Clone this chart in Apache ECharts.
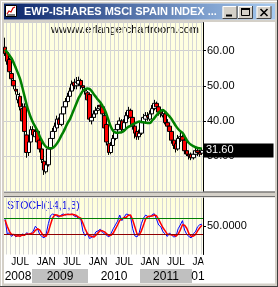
<!DOCTYPE html>
<html><head><meta charset="utf-8">
<script src="https://cdn.jsdelivr.net/npm/echarts@6/dist/echarts.min.js"></script>
<style>html,body{margin:0;padding:0;background:#fff}#c{width:278px;height:287px}</style>
</head><body><div id="c"></div><script>
const categories = [
'2008-03-15','2008-04-01','2008-04-15','2008-05-01','2008-05-15','2008-06-01','2008-06-15','2008-07-01','2008-07-15','2008-08-01','2008-08-15','2008-09-01','2008-09-15','2008-10-01','2008-10-15','2008-11-01','2008-11-15','2008-12-01','2008-12-15',
'2009-01-01','2009-01-15','2009-02-01','2009-02-15','2009-03-01','2009-03-15','2009-04-01','2009-04-15','2009-05-01','2009-05-15','2009-06-01','2009-06-15','2009-07-01','2009-07-15','2009-08-01','2009-08-15','2009-09-01','2009-09-15','2009-10-01','2009-10-15','2009-11-01','2009-11-15','2009-12-01','2009-12-15',
'2010-01-01','2010-01-15','2010-02-01','2010-02-15','2010-03-01','2010-03-15','2010-04-01','2010-04-15','2010-05-01','2010-05-15','2010-06-01','2010-06-15','2010-07-01','2010-07-15','2010-08-01','2010-08-15','2010-09-01','2010-09-15','2010-10-01','2010-10-15','2010-11-01','2010-11-15','2010-12-01','2010-12-15',
'2011-01-01','2011-01-15','2011-02-01','2011-02-15','2011-03-01','2011-03-15','2011-04-01','2011-04-15','2011-05-01','2011-05-15','2011-06-01','2011-06-15','2011-07-01','2011-07-15','2011-08-01','2011-08-15','2011-09-01','2011-09-15','2011-10-01','2011-10-15','2011-11-01','2011-11-15','2011-12-01','2011-12-15',
'2012-01-01'];
const opens = [61,59.5,57.5,53.5,51.5,49,46,47,43.5,44, 36,31,34,37.5,35.5,37,34.5,32,28.5,25.5, 27.5,32,35,37,38,40.5,39,42,44,45.5, 47,48.5,51,50,50.5,51.5,50,49,48,47.5, 40,41,42,43,44.5,44,41.5,39,33.5,31, 33,35,37.5,39,40,37.5,39.5,41.5,43,41, 38.5,37,35.5,36.5,39.5,40.5,41.5,40.5,42,43.5, 45,44,42.5,41.5,42,39.5,38.5,37,34.5,33.5, 32,35,35.5,34.5,31.5,30.5,30.5,29.5,30.5,31.5, 31,30.8];
const closes = [59.2,57,54,52,50,48.5,47.5,44,40,37, 31,34,37.5,36,37,34,32,29,26,27.5, 32,35,37,38.5,40.5,39,42,44,45.5,47, 48.5,50.5,50,51,51.5,50,49.5,48.5,46,40.5, 41,42,43,43.5,44,42,38,34,31,33, 35,37.5,39,40,37.5,39.5,41.5,43,41,38.5, 36.5,35.5,36.5,39.5,41,41.5,41,42,43.5,45, 44,42.5,42,42,39.5,38.5,37,34.5,33,32, 35,35.5,34.5,31.5,30.5,30,29.5,30.5,31.5,31, 30.5,31.6];
const highs = [63.7,60,58,55,53,51,49,48,45,45, 38,35,38.5,38.5,38,37.5,36,33,29.5,28.5, 33,36,38,39.5,41.5,41,43,45,46.5,48, 49.5,51.5,52,52.5,52.6,52,51,50,48.5,48, 42,43,44,44.5,45,44.5,42,40,34.5,34, 36,38.5,40,41,40.5,40.5,42.5,44,43.5,41.5, 39,37.5,37.5,40.5,42,42.5,42.5,43,44.5,46, 45.5,44.5,43.5,43,42.5,40.5,39,37.5,35,34, 36,37,36,35,32.5,31.5,31,31.5,32.5,32, 31.8,32.3];
const lows = [58.5,56,53,51,49,47.5,45,43,39,36, 29.5,30,33,35,34,33,31,28,24.6,25, 27,31,34,36,37.5,38,38.5,41,43,44.5, 46,47.5,49,49,50,49,48,47.5,45,39.7, 39,40,41,42,42.5,41,37,33,30.3,30.5, 32,34.5,36.5,38,36.5,37,39,40.5,40,37.5, 35,34.6,34.6,36,39,40,40,40,41.5,43, 43,41.5,41,41,39,37.5,36,33.5,32,31, 31.5,34,33.5,30.5,30,29,28.8,29,30,30, 29.8,30.3];
const maValues = [60.3,59.5,58.7,57.8,56.5,55,53.5,51.8,49.5,47, 44.5,42.5,40.8,39.4,38.3,37.2,35.6,34.4,33.3,32.6, 32.3,32.2,32.3,32.8,33.6,34.6,35.8,36.9,38.2,39.5, 40.5,42,43.5,45,46.5,47.6,48.6,49,49.2,49.1, 48.5,47.6,46.8,46,45.3,44.3,43.2,41.7,39.8,38.2, 37.1,36.7,36.6,36.7,36.8,37.2,37.8,38.3,38.6,39, 39.3,39.6,39.8,39.7,39.6,39.5,39.4,39.4,40.1,40.8, 41.6,42.3,42.9,43.1,42.6,41.9,41.3,40.5,39.5,38.5, 37.7,37.1,36.6,35.6,34.5,33.7,33.2,32.8,32.5,32.3, 32.2,32.1];
const stochK = [78,20,25,10,18,8,15,10,20,14, 25,18,22,30,50,40,18,10,4,20, 60,92,98,95,90,86,95,98,94,98, 96,98,90,88,80,78,30,12,24,2, 6,12,28,32,38,26,20,14,8,22, 40,55,70,94,72,85,98,96,88,40, 12,8,24,60,82,94,88,86,96,99, 78,55,48,28,20,10,24,15,8,10, 40,55,72,35,18,10,4,20,28,48, 56,58];
const stochD = [75,50,30,18,18,12,13,11,15,15, 20,19,22,23,34,40,36,22,11,11, 28,57,83,95,94,90,90,93,96,96, 96,97,95,92,86,82,62,40,22,13, 11,7,15,24,33,32,28,20,14,15, 23,39,55,73,79,84,85,93,94,75, 47,20,15,31,55,79,88,89,90,94, 91,77,60,44,32,19,18,16,16,11, 19,35,56,54,42,21,11,11,17,32, 44,54];
const stochLevels = [80, 20];
const monthTickKeys = ['01-01', '07-01'];
const monthTickNames = ['JAN', 'JUL'];
const yearLabels = ['2008', '2009', '2010', '2011', '01'];
const titleText = 'EWP-ISHARES MSCI SPAIN INDEX ...';
const siteText = 'wwww.erlangerchartroom.com';
const stochTitle = 'STOCH(14,1,3)';

// style only: year row boxes [x0, x1, fill]
const yearBoxes = [[4,32,'#FFFFFF'],[32,88,'#C0C0C0'],[88,140,'#FFFFFF'],[140,192,'#C0C0C0'],[192,203,'#FFFFFF']];

const FONT = 'Liberation Sans, Arial, sans-serif';
const candleData = categories.map((c, i) => [opens[i], closes[i], lows[i], highs[i]]);
const lastClose = closes[closes.length - 1];

const graphics = [];
const grey = '#D4D0C8';
graphics.push({type:'rect', shape:{x:0,y:0,width:278,height:3.5}, style:{fill:grey}});
graphics.push({type:'rect', shape:{x:0,y:19.5,width:278,height:2.5}, style:{fill:grey}});
graphics.push({type:'rect', shape:{x:0,y:0,width:4,height:287}, style:{fill:grey}});
graphics.push({type:'rect', shape:{x:275,y:0,width:3,height:287}, style:{fill:grey}});
graphics.push({type:'rect', shape:{x:0,y:283.5,width:278,height:3.5}, style:{fill:grey}});
graphics.push({type:'line', shape:{x1:277.5,y1:0,x2:277.5,y2:287}, style:{stroke:'#404040',lineWidth:1}});
graphics.push({type:'line', shape:{x1:0,y1:286.5,x2:278,y2:286.5}, style:{stroke:'#404040',lineWidth:1}});
graphics.push({type:'line', shape:{x1:1.5,y1:1,x2:1.5,y2:286}, style:{stroke:'#FFFFFF',lineWidth:1}});
graphics.push({type:'line', shape:{x1:1,y1:1.5,x2:277,y2:1.5}, style:{stroke:'#FFFFFF',lineWidth:1}});
// title bar
graphics.push({type:'rect', shape:{x:4,y:3.5,width:271,height:16}, style:{fill:{type:'linear',x:0,y:0,x2:1,y2:0,colorStops:[{offset:0,color:'#0A246A'},{offset:1,color:'#A6CAF0'}]}}});
graphics.push({type:'rect', shape:{x:5.5,y:5.5,width:11,height:11}, style:{fill:'#FFFFFF',stroke:'#000',lineWidth:1}});
graphics.push({type:'polyline', shape:{points:[[7,14],[9,11],[11,12],[13,8],[15,7]]}, style:{stroke:'#D00000',lineWidth:1.2,fill:null}});
graphics.push({type:'line', shape:{x1:7,y1:15,x2:15,y2:15}, style:{stroke:'#000',lineWidth:1}});
graphics.push({type:'text', x:24, y:12, style:{text:titleText, fill:'#FFFFFF', font:'bold 11px ' + FONT, align:'left', verticalAlign:'middle', textAlign:'left', textVerticalAlign:'middle'}});
// buttons
[222.5, 238, 256.5].forEach(x => {
  graphics.push({type:'rect', shape:{x:x,y:6,width:15,height:13}, style:{fill:grey}});
  graphics.push({type:'polyline', shape:{points:[[x+0.5,19],[x+0.5,6.5],[x+15,6.5]]}, style:{stroke:'#FFFFFF',lineWidth:1,fill:null}});
  graphics.push({type:'polyline', shape:{points:[[x,18.5],[x+14.5,18.5],[x+14.5,6]]}, style:{stroke:'#404040',lineWidth:1,fill:null}});
});
graphics.push({type:'rect', shape:{x:226,y:14.5,width:6,height:2}, style:{fill:'#000'}});
graphics.push({type:'rect', shape:{x:241.5,y:8.5,width:8,height:7}, style:{fill:null,stroke:'#000',lineWidth:1}});
graphics.push({type:'rect', shape:{x:241,y:8,width:9,height:2}, style:{fill:'#000'}});
graphics.push({type:'line', shape:{x1:260.5,y1:9,x2:267.5,y2:16}, style:{stroke:'#000',lineWidth:1.6}});
graphics.push({type:'line', shape:{x1:267.5,y1:9,x2:260.5,y2:16}, style:{stroke:'#000',lineWidth:1.6}});
// site text
graphics.push({type:'text', x:199, y:30, style:{text:siteText, fill:'#000', font:'11px ' + FONT, align:'right', verticalAlign:'middle', textAlign:'right', textVerticalAlign:'middle'}});
// separator
graphics.push({type:'rect', shape:{x:4,y:191.5,width:271,height:6}, style:{fill:grey}});
graphics.push({type:'line', shape:{x1:4,y1:192,x2:275,y2:192}, style:{stroke:'#505050',lineWidth:1}});
graphics.push({type:'line', shape:{x1:4,y1:196.5,x2:275,y2:196.5}, style:{stroke:'#707070',lineWidth:1}});
// stoch title
graphics.push({type:'text', x:7, y:205.7, style:{text:stochTitle, fill:'#1010E8', font:'10.5px ' + FONT, align:'left', verticalAlign:'middle', textAlign:'left', textVerticalAlign:'middle'}});
// clip overlay for month labels past axis
graphics.push({type:'rect', zlevel:1, shape:{x:203.5,y:255,width:71.5,height:14}, style:{fill:'#FFFFFF'}});
// year row
yearBoxes.forEach((b, i) => {
  graphics.push({type:'rect', shape:{x:b[0],y:269,width:b[1]-b[0],height:14}, style:{fill:b[2]}});
  graphics.push({type:'text', x:(b[0]+b[1])/2 + (i===4?0.5:0), y:276.5, style:{text:yearLabels[i], fill:'#000', font:'12px ' + FONT, align:'center', verticalAlign:'middle', textAlign:'center', textVerticalAlign:'middle'}});
});

const chart = echarts.init(document.getElementById('c'), null, {renderer:'canvas'});
const option = {
  animation: false,
  backgroundColor: '#FFFFFF',
  textStyle: {fontFamily: FONT},
  grid: [
    {left:4, top:22.6, width:199, height:168.5, show:true, backgroundColor:'#FFFFE0', borderWidth:0, containLabel:false, outerBoundsMode:'none'},
    {left:4, top:198, width:199, height:56.5, show:true, borderWidth:0, containLabel:false, outerBoundsMode:'none',
     backgroundColor:{type:'linear',x:0,y:0,x2:0,y2:1,colorStops:[{offset:0,color:'#FFFFD8'},{offset:1,color:'#FFFFF6'}]}}
  ],
  xAxis: [
    {type:'category', gridIndex:0, data:categories, boundaryGap:true,
     axisLine:{show:false}, axisTick:{show:false}, axisLabel:{show:false},
     splitLine:{show:true, interval:(i, v) => v.endsWith('-01'), lineStyle:{color:'#D6D6D6', width:1}}},
    {type:'category', gridIndex:1, data:categories, boundaryGap:true,
     axisLine:{show:false}, axisTick:{show:false},
     axisLabel:{show:true, interval:(i, v) => monthTickKeys.includes(v.slice(5)),
       formatter:(v) => { const k = monthTickKeys.indexOf(v.slice(5)); return k >= 0 ? monthTickNames[k] : ''; },
       color:'#000', fontSize:10, margin:3, fontFamily:FONT},
     splitLine:{show:true, interval:(i, v) => v.endsWith('-01'), lineStyle:{color:'#D6D6D6', width:1}}}
  ],
  yAxis: [
    {type:'value', gridIndex:0, position:'right', min:20, max:68, interval:10, scale:false,
     axisLine:{show:true, lineStyle:{color:'#000', width:1}},
     axisTick:{show:true, length:3, inside:false, lineStyle:{color:'#000'}},
     axisLabel:{show:true, showMinLabel:false, showMaxLabel:false, formatter:(v) => v.toFixed(2), color:'#000', fontSize:11, margin:4, fontFamily:FONT},
     splitLine:{show:true, lineStyle:{color:'#CFCFCF', width:1}}},
    {type:'value', gridIndex:1, position:'right', min:-61, max:161, interval:111,
     axisLine:{show:true, lineStyle:{color:'#000', width:1}},
     axisTick:{show:true, length:3, lineStyle:{color:'#000'}},
     axisLabel:{show:true, showMinLabel:false, showMaxLabel:false, formatter:(v) => (v === 50 ? '50.0000' : ''), color:'#000', fontSize:11, margin:4, fontFamily:FONT},
     splitLine:{show:false}}
  ],
  series: [
    {type:'candlestick', xAxisIndex:0, yAxisIndex:0, data:candleData, barWidth:4, z:2,
     itemStyle:{color:'#FFFFFF', color0:'#FF0000', borderColor:'#000000', borderColor0:'#000000', borderColorDoji:'#000000', borderWidth:1},
     markLine:{silent:true, symbol:['none','none'], animation:false, z:10,
       lineStyle:{color:'rgba(0,0,0,0)', width:1, type:'solid'},
       data:[{yAxis:lastClose}],
       label:{show:true, position:'end', distance:0, formatter:() => lastClose.toFixed(2), opacity:1,
         backgroundColor:'#000000', color:'#FFFFFF', fontSize:11, fontFamily:FONT, lineHeight:11, padding:[2,40,1,3]}}},
    {type:'line', xAxisIndex:0, yAxisIndex:0, data:maValues, symbol:'none', smooth:0.3, z:3,
     lineStyle:{color:'#008000', width:2.5}, itemStyle:{color:'#008000'}},
    {type:'line', xAxisIndex:1, yAxisIndex:1, data:stochK, symbol:'none', z:3,
     lineStyle:{color:'#0000FF', width:1}, itemStyle:{color:'#0000FF'},
     markLine:{silent:true, symbol:['none','none'], animation:false, label:{show:false},
       data:[{yAxis:stochLevels[0], lineStyle:{color:'#008000', width:1, type:'solid'}},
             {yAxis:stochLevels[1], lineStyle:{color:'#900000', width:1, type:'solid'}}]}},
    {type:'line', xAxisIndex:1, yAxisIndex:1, data:stochD, symbol:'none', z:4,
     lineStyle:{color:'#FF0000', width:1.5}, itemStyle:{color:'#FF0000'}}
  ],
  graphic: graphics
};
chart.setOption(option);
</script></body></html>
